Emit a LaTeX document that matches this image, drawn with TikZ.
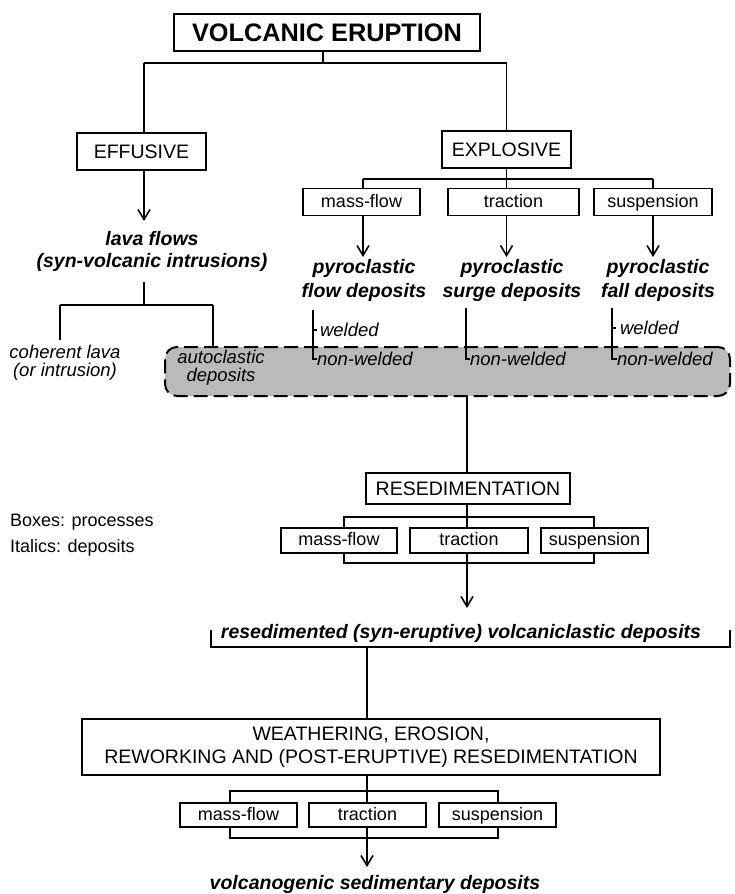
\documentclass[tikz,border=0pt]{standalone}
\usepackage{fontspec}
\setmainfont{Liberation Sans}
\usetikzlibrary{arrows.meta}
\begin{document}
\begin{tikzpicture}[x=1pt,y=-1pt,
  line width=1.3pt,
  every node/.style={inner sep=0pt, outer sep=0pt},
  bigbox/.style={draw, line width=1.4pt, fill=white, font=\fontsize{19.5}{23}\selectfont, minimum height=37pt, align=center},
  smallbox/.style={draw, line width=1.3pt, fill=white, font=\fontsize{18}{20}\selectfont, minimum height=26pt, text height=13.5pt, text depth=3.5pt},
  dep/.style={font=\fontsize{19.5}{24}\bfseries\itshape\selectfont, align=center},
  idep/.style={font=\fontsize{18.5}{18}\itshape\selectfont, align=center},
  band/.style={draw, line width=2pt, dash pattern=on 14pt off 6pt, rounded corners=12pt, fill=black!27},
  frame/.style={draw, line width=1.3pt},
  arr/.style={-{Straight Barb[length=10pt,width=12pt,line width=1.6pt]}},
]
\useasboundingbox[fill=white] (0,0) rectangle (734,894);

% shaded band
\node[band, minimum width=565pt, minimum height=49pt] (band) at (447.5,371.5) {};

% top
\node[bigbox, minimum width=306pt, font=\fontsize{25.3}{28}\bfseries\selectfont] (erupt) at (327,32.5) {VOLCANIC ERUPTION};
\node[bigbox, minimum width=129pt] (effusive) at (141.5,151.5) {EFFUSIVE};
\node[bigbox, minimum width=129pt] (explosive) at (506.5,149.5) {EXPLOSIVE};

\coordinate (j0) at (323,63);
\coordinate (jl) at (144,63);
\coordinate (jr) at (506.5,63);
\draw (erupt.south -| j0) -- (j0);
\draw (jl) -- (jr);
\draw (jl) -- (jl |- effusive.north);
\draw (jr) -- (explosive.north);

% explosive branch
\node[smallbox, minimum width=117pt, minimum height=27pt] (mf1) at (361.5,202) {mass-flow};
\node[smallbox, minimum width=131pt, minimum height=27pt] (tr1) at (513.5,202) {traction};
\node[smallbox, minimum width=118pt, minimum height=27pt] (su1) at (653,202) {suspension};
\coordinate (je) at (506.5,179);
\coordinate (jm) at (363,179);
\coordinate (js) at (653,179);
\draw (explosive.south) -- (je);
\draw (jm) -- (js);
\draw (jm) -- (jm |- mf1.north);
\draw (je) -- (je |- tr1.north);
\draw (js) -- (js |- su1.north);

\node[dep] (pfd) at (364,280) {pyroclastic\\flow deposits};
\node[dep] (psd) at (512,280) {pyroclastic\\surge deposits};
\node[dep] (pfa) at (658,280) {pyroclastic\\fall deposits};
\coordinate (t1) at (363,257);
\coordinate (t2) at (506.5,257);
\coordinate (t3) at (653,257);
\draw[arr] (mf1.south -| t1) -- (t1);
\draw[arr] (tr1.south -| t2) -- (t2);
\draw[arr] (su1.south -| t3) -- (t3);

% effusive branch
\node[dep, font=\fontsize{19.5}{22}\bfseries\itshape\selectfont] (lava) at (152,251) {lava flows\\(syn-volcanic intrusions)};
\coordinate (lt) at (144,221);
\draw[arr] (effusive.south -| lt) -- (lt);
\coordinate (l0) at (144,282);
\coordinate (l1) at (144,305);
\coordinate (lL) at (60,305);
\coordinate (lR) at (213,305);
\coordinate (lLe) at (60,340);
\draw (l0) -- (l1);
\draw (lL) -- (lR);
\draw (lL) -- (lLe);
\draw (lR) -- (lR |- band.north);

\node[idep] (coh) at (65,363) {coherent lava\\(or intrusion)};
\node[idep] (auto) at (221,368) {autoclastic\\deposits};

% welded / non-welded
\node[idep, anchor=west] (w1) at (320,330) {welded};
\node[idep, anchor=west] (nw1) at (317,359) {non-welded};
\node[idep, anchor=west] (nw2) at (470,359) {non-welded};
\node[idep, anchor=west] (w3) at (620,328) {welded};
\node[idep, anchor=west] (nw3) at (617,359) {non-welded};
\coordinate (b1) at (313,310);
\coordinate (b2) at (466,308);
\coordinate (b3) at (612,308);
\draw (b1) |- (nw1.west);
\draw (b1 |- w1.west) -- ++(4,0);
\draw (b2) |- (nw2.west);
\draw (b3) |- (nw3.west);
\draw (b3 |- w3.west) -- ++(4,0);

% resedimentation
\node[bigbox, minimum width=204pt, minimum height=31pt] (resed) at (468,488.5) {RESEDIMENTATION};
\coordinate (rv) at (467,396);
\draw (band.south -| rv) -- (rv |- resed.north);
\node[frame, minimum width=250pt, minimum height=46pt] (rect1) at (469,540) {};
\node[smallbox, minimum width=116pt, minimum height=25pt] (mf2) at (339,540.5) {mass-flow};
\node[smallbox, minimum width=118pt, minimum height=25pt] (tr2) at (469,540.5) {traction};
\node[smallbox, minimum width=107pt, minimum height=25pt] (su2) at (594.5,540.5) {suspension};
\draw (resed.south -| rv) -- (rv |- tr2.north);
\coordinate (rt) at (467,608);
\draw[arr] (tr2.south -| rt) -- (rt);

\node[dep] (resdep) at (461,633) {resedimented (syn-eruptive) volcaniclastic deposits};
\coordinate (k1) at (211,630);
\coordinate (k2) at (730,647);
\coordinate (k3) at (730,630);
\draw (k1) |- (k2) -- (k3);

% weathering
\node[bigbox, minimum width=578pt, minimum height=56pt] (weather) at (371,747) {WEATHERING, EROSION,\\REWORKING AND (POST-ERUPTIVE) RESEDIMENTATION};
\coordinate (wv) at (367,647);
\draw (wv) -- (wv |- weather.north);
\node[frame, minimum width=268pt, minimum height=47pt] (rect2) at (364,814.5) {};
\node[smallbox, minimum width=117pt, minimum height=24pt] (mf3) at (238.5,815) {mass-flow};
\node[smallbox, minimum width=117pt, minimum height=24pt] (tr3) at (367.5,815) {traction};
\node[smallbox, minimum width=117pt, minimum height=24pt] (su3) at (497.5,815) {suspension};
\draw (weather.south -| wv) -- (wv |- tr3.north);
\coordinate (vt) at (367,867);
\draw[arr] (tr3.south -| vt) -- (vt);
\node[dep] (volc) at (375,884) {volcanogenic sedimentary deposits};

% legend
\node[anchor=west, font=\fontsize{18}{20}\selectfont] (leg1) at (10,522) {Boxes: processes};
\node[anchor=west, font=\fontsize{18}{20}\selectfont] (leg2) at (10,548) {Italics: deposits};
\end{tikzpicture}
\end{document}
